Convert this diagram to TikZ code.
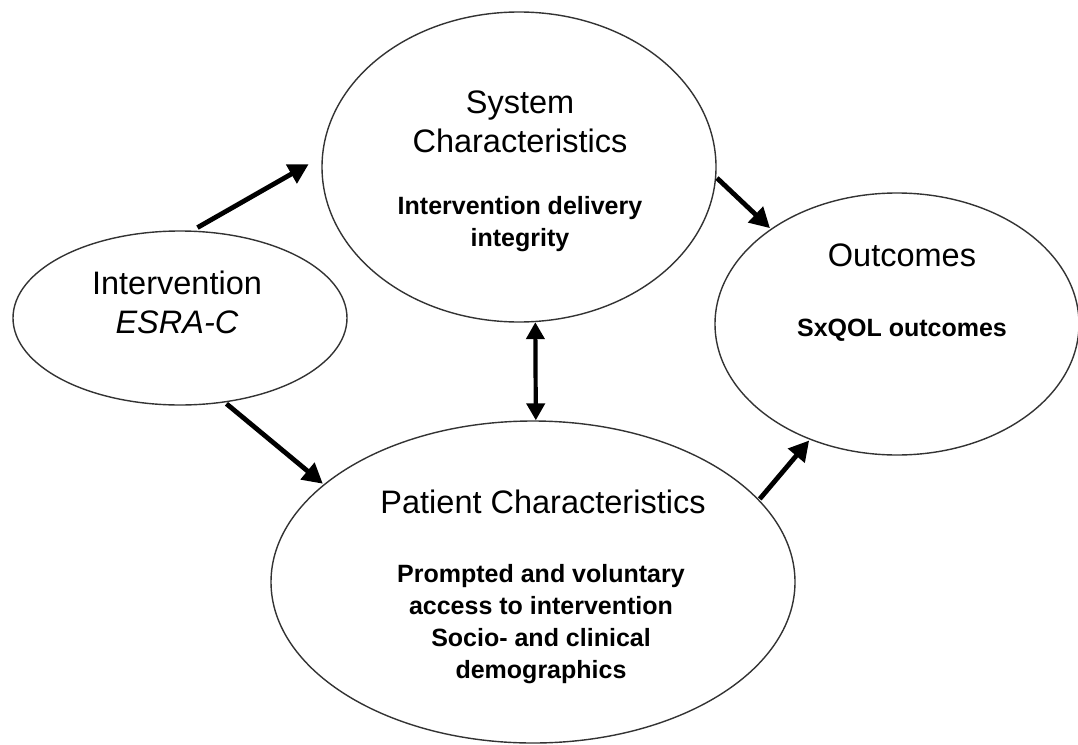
\documentclass[tikz,border=0pt]{standalone}
\usepackage{fontspec}
\setmainfont{Liberation Sans}
\usetikzlibrary{shapes.geometric,arrows.meta}
\begin{document}
\begin{tikzpicture}[x=1pt,y=-1pt,
  bubble/.style={ellipse,draw=black!80,line width=1.4pt,inner sep=0pt},
  heading/.style={align=center,font=\fontsize{32.5}{39}\selectfont,inner sep=0pt},
  detail/.style={align=center,font=\fontsize{25}{32}\selectfont\bfseries,inner sep=0pt},
  flow/.style={line width=4.8pt,-{Triangle[length=20pt,width=21pt]}},
  link/.style={line width=4.2pt,{Triangle[length=17pt,width=18pt]}-{Triangle[length=17pt,width=18pt]}}]
\useasboundingbox (0,0) rectangle (1078,744);

% the four ellipses
\node[bubble,minimum width=334pt,minimum height=174pt] (int) at (180,318) {};
\node[bubble,minimum width=394pt,minimum height=310pt] (sys) at (519,167) {};
\node[bubble,minimum width=364pt,minimum height=262pt] (out) at (897,324) {};
\node[bubble,minimum width=524pt,minimum height=322pt] (pat) at (533,582) {};

% labels
\node[heading] (intH) at (177,302) {Intervention\\\textit{ESRA-C}};
\node[heading] (sysH) at (520,122) {System\\Characteristics};
\node[detail]  (sysD) at (520,224) {Intervention delivery\\integrity};
\node[heading] (outH) at (902,255) {Outcomes};
\node[detail]  (outD) at (902,330) {SxQOL outcomes};
\node[heading] (patH) at (543,502) {Patient Characteristics};
\node[detail]  (patD) at (541,624) {Prompted and voluntary\\access to intervention\\Socio- and clinical\\demographics};

% connectors
\draw[flow,shorten <=6pt,shorten >=15pt] (int.82) -- (sys.177);
\draw[flow,shorten <=2pt,shorten >=1pt] (int.-62) -- (pat.155);
\draw[flow,shorten <=1pt,shorten >=1pt] (sys.-3) -- (out.143.5);
\draw[flow,shorten <=1pt,shorten >=1pt] (pat.20.7) -- (out.233.3);
\draw[link] (sys.-84) -- (pat.89);
\end{tikzpicture}
\end{document}
